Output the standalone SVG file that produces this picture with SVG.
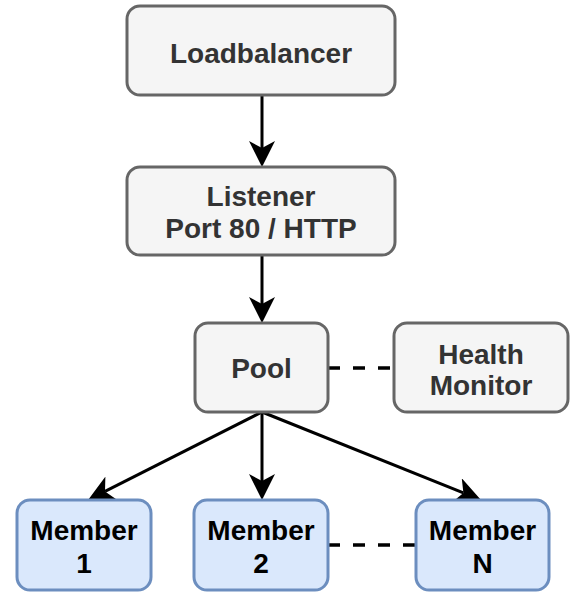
<svg xmlns="http://www.w3.org/2000/svg" width="577" height="593" viewBox="0 0 577 593">
<style>
.g{fill:#f5f5f5;stroke:#666666;stroke-width:3}
.b{fill:#dae8fc;stroke:#6c8ebf;stroke-width:3}
text{font-family:"Liberation Sans",Arial,sans-serif;font-weight:bold;font-size:28px;text-anchor:middle}
.tg{fill:#333333}
.tb{fill:#000000}
.arr{stroke:#000;stroke-width:3;fill:none;marker-end:url(#ah)}
.dash{stroke:#000;stroke-width:3.5;fill:none;stroke-dasharray:12 13}
</style>
<defs>
<marker id="ah" markerUnits="userSpaceOnUse" viewBox="0 0 26 26" refX="7" refY="13" markerWidth="26" markerHeight="26" orient="auto">
<path d="M0,0 L26,13 L0,26 L7,13 Z" fill="#000"/>
</marker>
</defs>
<rect width="577" height="593" fill="#ffffff"/>
<g id="connectors">
<line class="arr" x1="262" y1="95" x2="262" y2="148"/>
<line class="arr" x1="262" y1="255" x2="262" y2="304"/>
<line class="arr" x1="262" y1="412" x2="105" y2="491.4"/>
<line class="arr" x1="262" y1="412" x2="262" y2="481"/>
<line class="arr" x1="262" y1="412" x2="463.4" y2="492.9"/>
<line class="dash" x1="328" y1="368" x2="394" y2="368"/>
<line class="dash" x1="328" y1="545" x2="416" y2="545"/>
</g>
<g id="loadbalancer">
<rect class="g" x="127" y="6" width="268" height="89" rx="13"/>
<text class="tg" x="261" y="63">Loadbalancer</text>
</g>
<g id="listener">
<rect class="g" x="127" y="167" width="268" height="88" rx="13"/>
<text class="tg" x="261" y="206">Listener</text>
<text class="tg" x="261" y="238">Port 80 / HTTP</text>
</g>
<g id="pool">
<rect class="g" x="195" y="323" width="133" height="89" rx="13"/>
<text class="tg" x="261.5" y="378">Pool</text>
</g>
<g id="health-monitor">
<rect class="g" x="394" y="323" width="174" height="89" rx="13"/>
<text class="tg" x="481" y="364">Health</text>
<text class="tg" x="481" y="395">Monitor</text>
</g>
<g id="member1">
<rect class="b" x="17" y="500" width="134" height="90" rx="13"/>
<text class="tb" x="84" y="540">Member</text>
<text class="tb" x="84" y="573">1</text>
</g>
<g id="member2">
<rect class="b" x="194" y="500" width="134" height="90" rx="13"/>
<text class="tb" x="261" y="540">Member</text>
<text class="tb" x="261" y="573">2</text>
</g>
<g id="memberN">
<rect class="b" x="416" y="500" width="133" height="90" rx="13"/>
<text class="tb" x="482.5" y="540">Member</text>
<text class="tb" x="482.5" y="573">N</text>
</g>
</svg>
